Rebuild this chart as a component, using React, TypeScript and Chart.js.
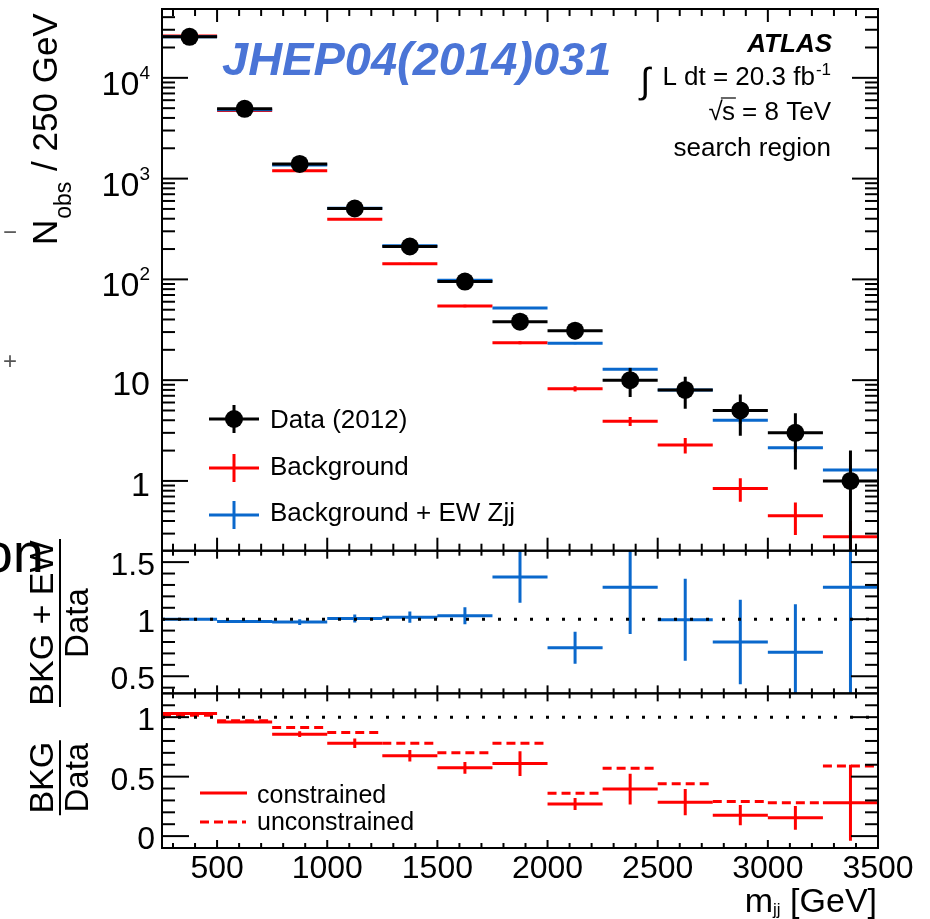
import React, { useEffect, useRef } from "react";
import { Chart, registerables } from "chart.js";

Chart.register(...registerables);

// ---------------- data ----------------
const binEdges = [250, 500, 750, 1000, 1250, 1500, 1750, 2000, 2250, 2500, 2750, 3000, 3250, 3500];

const dataCounts = [25500, 4930, 1400, 505, 212, 95, 38, 31, 10, 8, 5, 3, 1];
const dataErrors = [160, 70, 37, 22, 15, 10, 6.2, 5.6, 3.2, 2.8, 2.2, 1.7, 1.0];

const bkgCounts = [26000, 4730, 1200, 395, 143, 54.5, 23.5, 8.2, 3.9, 2.27, 0.84, 0.45, 0.28];
const bkgErrors = [100, 40, 15, 6, 3, 1.5, 0.8, 0.5, 0.4, 0.4, 0.22, 0.16, 0.12];

const bkgEwCounts = [25500, 4830, 1365, 508, 216, 98, 52, 23.3, 12.8, 8.0, 4.0, 2.13, 1.28];
const bkgEwErrors = [100, 40, 15, 6, 3, 1.5, 1.0, 0.6, 0.5, 0.45, 0.3, 0.2, 0.15];

const ratioEw = [1.0, 0.98, 0.975, 1.006, 1.018, 1.03, 1.37, 0.75, 1.28, 0.995, 0.8, 0.71, 1.28];
const ratioEwErrors = [0.005, 0.01, 0.025, 0.035, 0.05, 0.075, 0.225, 0.14, 0.41, 0.36, 0.37, 0.42, 1.3];

const ratioBkg = [1.03, 0.96, 0.857, 0.78, 0.675, 0.574, 0.61, 0.27, 0.395, 0.285, 0.176, 0.154, 0.28];
const ratioBkgErrors = [0.004, 0.01, 0.024, 0.04, 0.048, 0.05, 0.104, 0.05, 0.13, 0.11, 0.085, 0.1, 0.32];
const ratioBkgUnconstrained = [1.015, 0.97, 0.913, 0.87, 0.78, 0.7, 0.78, 0.36, 0.57, 0.44, 0.29, 0.28, 0.59];

const xTickValues = [500, 1000, 1500, 2000, 2500, 3000, 3500];
const mainTickValues = [1, 10, 100, 1000, 10000];
const mainTickBases = ["1", "10", "10", "10", "10"];
const mainTickExps = ["", "", "2", "3", "4"];
const midTickValues = [0.5, 1, 1.5];
const midTickLabels = ["0.5", "1", "1.5"];
const botTickValues = [0, 0.5, 1];
const botTickLabels = ["0", "0.5", "1"];

const xRange = [250, 3500];
const mainRange = [0.203, 48200];
const midRange = [0.35, 1.6];
const botRange = [-0.1, 1.2];

// ---------------- style ----------------
const FONT = '"Liberation Sans", Arial, Helvetica, sans-serif';
const RED = "#ff0000";
const BLUE = "#0a68cc";
const BLACK = "#000000";

function binCenter(i: number) {
  return (binEdges[i] + binEdges[i + 1]) / 2;
}

function hSegments(values: number[]) {
  const pts: any[] = [];
  values.forEach((v, i) => {
    pts.push({ x: binEdges[i], y: v }, { x: binEdges[i + 1], y: v }, { x: binEdges[i + 1], y: null });
  });
  return pts;
}

function vSegments(values: number[], errors: number[], range: number[]) {
  const pts: any[] = [];
  values.forEach((v, i) => {
    const c = binCenter(i);
    const lo = Math.max(v - errors[i], range[0]);
    const hi = Math.min(v + errors[i], range[1]);
    pts.push({ x: c, y: lo }, { x: c, y: hi }, { x: c, y: null });
  });
  return pts;
}

function seg(data: any[], yAxisID: string, color: string, dash: number[] = [], width = 3) {
  return {
    type: "line",
    data,
    yAxisID,
    xAxisID: "x",
    borderColor: color,
    backgroundColor: color,
    borderWidth: width,
    borderDash: dash,
    borderCapStyle: "butt",
    pointRadius: 0,
    pointHoverRadius: 0,
    fill: false,
    spanGaps: false,
    tension: 0,
  };
}

const panelClip = {
  id: "panelClip",
  beforeDatasetDraw(chart: any, args: any) {
    const ys = chart.scales[args.meta.yAxisID];
    const ca = chart.chartArea;
    const ctx = chart.ctx;
    ctx.save();
    ctx.beginPath();
    ctx.rect(ca.left, ys.top, ca.right - ca.left, ys.bottom - ys.top);
    ctx.clip();
  },
  afterDatasetDraw(chart: any) {
    chart.ctx.restore();
  },
};

function line(ctx: CanvasRenderingContext2D, x1: number, y1: number, x2: number, y2: number) {
  ctx.beginPath();
  ctx.moveTo(x1, y1);
  ctx.lineTo(x2, y2);
  ctx.stroke();
}

const rootDecor = {
  id: "rootDecor",
  afterDraw(chart: any) {
    const ctx: CanvasRenderingContext2D = chart.ctx;
    const ca = chart.chartArea;
    const x = chart.scales.x;
    const yM = chart.scales.yMain;
    const yMd = chart.scales.yMid;
    const yB = chart.scales.yBot;
    ctx.save();
    ctx.strokeStyle = BLACK;
    ctx.fillStyle = BLACK;
    ctx.lineWidth = 2;
    ctx.setLineDash([]);

    // frames
    for (const s of [yM, yMd, yB]) {
      ctx.strokeRect(ca.left, s.top, ca.right - ca.left, s.bottom - s.top);
    }

    // y ticks
    const yTick = (s: any, v: number, len: number) => {
      const p = s.getPixelForValue(v);
      if (p <= s.top + 1 || p >= s.bottom - 1) return;
      line(ctx, ca.left, p, ca.left + len, p);
      line(ctx, ca.right, p, ca.right - len, p);
    };
    for (let k = -1; k <= 4; k++) {
      for (let m = 1; m <= 9; m++) {
        const v = m * Math.pow(10, k);
        if (v < mainRange[0] || v > mainRange[1]) continue;
        yTick(yM, v, m === 1 ? 26 : 13);
      }
    }
    for (let i = 3; i <= 16; i++) {
      const v = i / 10;
      if (v < midRange[0] || v > midRange[1]) continue;
      yTick(yMd, v, i % 5 === 0 ? 27 : 13);
    }
    for (let i = -1; i <= 12; i++) {
      const v = i / 10;
      yTick(yB, v, i % 5 === 0 ? 27 : 13);
    }

    // x ticks
    for (let v = 300; v <= 3400; v += 100) {
      const p = x.getPixelForValue(v);
      const major = v % 500 === 0;
      const lm = major ? 13 : 7;
      line(ctx, p, yM.top, p, yM.top + lm);
      line(ctx, p, yM.bottom, p, yM.bottom - lm);
      const lr = major ? 8 : 5;
      for (const s of [yMd, yB]) {
        line(ctx, p, s.top, p, s.top + lr);
        line(ctx, p, s.bottom, p, s.bottom - lr);
      }
    }

    // y tick labels
    ctx.textBaseline = "alphabetic";
    ctx.textAlign = "right";
    mainTickValues.forEach((v, i) => {
      const p = yM.getPixelForValue(v);
      const right = ca.left - 12;
      if (mainTickExps[i]) {
        ctx.font = `19px ${FONT}`;
        ctx.fillText(mainTickExps[i], right, p + 1);
        const ew = ctx.measureText(mainTickExps[i]).width;
        ctx.font = `34px ${FONT}`;
        ctx.fillText(mainTickBases[i], right - ew, p + 17);
      } else {
        ctx.font = `34px ${FONT}`;
        ctx.fillText(mainTickBases[i], right, p + 15);
      }
    });
    ctx.font = `32px ${FONT}`;
    midTickValues.forEach((v, i) => {
      ctx.fillText(midTickLabels[i], ca.left - 7, yMd.getPixelForValue(v) + 13);
    });
    botTickValues.forEach((v, i) => {
      ctx.fillText(botTickLabels[i], ca.left - 7, yB.getPixelForValue(v) + 13);
    });

    // x tick labels
    ctx.textAlign = "center";
    ctx.font = `32px ${FONT}`;
    xTickValues.forEach((v) => {
      ctx.fillText(String(v), x.getPixelForValue(v), ca.bottom + 30);
    });

    // x title  m_jj [GeV]
    ctx.textAlign = "right";
    const xr = ca.right - 1;
    ctx.font = `34px ${FONT}`;
    ctx.fillText(" [GeV]", xr, ca.bottom + 64);
    const w1 = ctx.measureText(" [GeV]").width;
    ctx.font = `17px ${FONT}`;
    ctx.fillText("jj", xr - w1, ca.bottom + 67);
    const w2 = ctx.measureText("jj").width;
    ctx.font = `34px ${FONT}`;
    ctx.fillText("m", xr - w1 - w2, ca.bottom + 64);

    // y title main: N_obs / 250 GeV
    ctx.save();
    ctx.translate(57, 245);
    ctx.rotate(-Math.PI / 2);
    ctx.textAlign = "left";
    ctx.font = `35px ${FONT}`;
    ctx.fillText("N", 0, 0);
    const wN = ctx.measureText("N").width;
    ctx.font = `23px ${FONT}`;
    ctx.fillText("obs", wN + 1, 14);
    const wO = ctx.measureText("obs").width;
    ctx.font = `35px ${FONT}`;
    ctx.fillText(" / 250 GeV", wN + wO + 2, 0);
    ctx.restore();

    // ratio titles (fractions)
    const fraction = (num: string, den: string, cy: number, barLen: number) => {
      ctx.save();
      ctx.translate(53, cy);
      ctx.rotate(-Math.PI / 2);
      ctx.textAlign = "center";
      ctx.font = `34px ${FONT}`;
      ctx.fillText(num, 0, 0);
      ctx.restore();
      ctx.save();
      ctx.translate(88, cy);
      ctx.rotate(-Math.PI / 2);
      ctx.textAlign = "center";
      ctx.font = `33px ${FONT}`;
      ctx.fillText(den, 0, 0);
      ctx.restore();
      ctx.lineWidth = 2;
      line(ctx, 60, cy - barLen / 2, 60, cy + barLen / 2);
    };
    fraction("BKG + EW", "Data", (yMd.top + yMd.bottom) / 2 + 1, 168);
    fraction("BKG", "Data", (yB.top + yB.bottom) / 2 + 7, 75);

    // JHEP label
    ctx.textAlign = "left";
    ctx.fillStyle = "#4a74d6";
    ctx.font = `italic bold 47px ${FONT}`;
    ctx.fillText("JHEP04(2014)031", 222, 75);
    ctx.fillStyle = BLACK;

    // ATLAS block
    const R = 831;
    ctx.textAlign = "right";
    ctx.font = `italic bold 26px ${FONT}`;
    ctx.fillText("ATLAS", R + 1, 52);
    ctx.font = `17px ${FONT}`;
    ctx.fillText("-1", R, 75);
    const supW = ctx.measureText("-1").width;
    ctx.font = `26px ${FONT}`;
    const lumiX = R - supW - 1;
    ctx.fillText("L dt = 20.3 fb", lumiX, 85);
    const lw = ctx.measureText("L dt = 20.3 fb").width;
    ctx.font = `36px ${FONT}`;
    ctx.fillText("∫", lumiX - lw - 12, 93);
    ctx.font = `26px ${FONT}`;
    ctx.fillText("s = 8 TeV", R, 120);
    const sw = ctx.measureText("s = 8 TeV").width;
    const sW = ctx.measureText("s").width;
    const sStart = R - sw;
    ctx.fillText("√", sStart + 1, 120);
    ctx.lineWidth = 1.2;
    line(ctx, sStart - 1, 98, sStart + sW + 1, 98);
    ctx.fillText("search region", R, 156);

    // main legend
    ctx.lineWidth = 3;
    const cross = (cx: number, cy: number, color: string, hh: number) => {
      ctx.strokeStyle = color;
      line(ctx, cx - 25, cy, cx + 25, cy);
      line(ctx, cx, cy - hh, cx, cy + hh);
    };
    cross(234, 419, BLACK, 14);
    ctx.beginPath();
    ctx.arc(234, 419, 9, 0, Math.PI * 2);
    ctx.fill();
    cross(234, 468, RED, 14);
    cross(234, 515, BLUE, 14);
    ctx.textAlign = "left";
    ctx.font = `26px ${FONT}`;
    ctx.fillText("Data (2012)", 270, 428);
    ctx.fillText("Background", 270, 475);
    ctx.fillText("Background + EW Zjj", 270, 521);

    // ratio legend
    ctx.strokeStyle = RED;
    line(ctx, 200, 793, 247, 793);
    ctx.setLineDash([9, 5]);
    line(ctx, 200, 822, 246, 822);
    ctx.setLineDash([]);
    ctx.font = `25px ${FONT}`;
    ctx.fillText("constrained", 257, 803);
    ctx.fillText("unconstrained", 257, 830);

    // fragments from neighbouring figure
    ctx.textAlign = "right";
    ctx.font = `56px ${FONT}`;
    ctx.fillText("on", 44, 572);
    ctx.fillStyle = "#555";
    ctx.textAlign = "left";
    ctx.font = `24px ${FONT}`;
    ctx.fillText("−", 3, 240);
    ctx.fillText("+", 3, 369);

    ctx.restore();
  },
};

export default function App() {
  const ref = useRef<HTMLCanvasElement>(null);

  useEffect(() => {
    const centersData = dataCounts.map((v, i) => ({ x: binCenter(i), y: v }));
    const unity = [{ x: xRange[0], y: 1 }, { x: xRange[1], y: 1 }];
    const datasets: any[] = [
      {
        type: "line",
        data: centersData,
        yAxisID: "yMain",
        xAxisID: "x",
        showLine: false,
        pointRadius: 9,
        pointHoverRadius: 9,
        pointBackgroundColor: BLACK,
        pointBorderWidth: 0,
        borderColor: BLACK,
      },
      seg(vSegments(dataCounts, dataErrors, mainRange), "yMain", BLACK),
      seg(hSegments(dataCounts), "yMain", BLACK),
      seg(vSegments(bkgEwCounts, bkgEwErrors, mainRange), "yMain", BLUE),
      seg(hSegments(bkgEwCounts), "yMain", BLUE),
      seg(vSegments(bkgCounts, bkgErrors, mainRange), "yMain", RED),
      seg(hSegments(bkgCounts), "yMain", RED),

      seg(unity, "yMid", BLACK, [3, 13], 3),
      seg(vSegments(ratioEw, ratioEwErrors, midRange), "yMid", BLUE),
      seg(hSegments(ratioEw), "yMid", BLUE),

      seg(unity, "yBot", BLACK, [3, 13], 3),
      seg(vSegments(ratioBkg, ratioBkgErrors, botRange), "yBot", RED),
      seg(hSegments(ratioBkg), "yBot", RED),
      seg(hSegments(ratioBkgUnconstrained), "yBot", RED, [9, 5]),
    ];

    const hiddenAxis = {
      grid: { display: false },
      border: { display: false },
      ticks: { display: false },
    };

    const chart = new Chart(ref.current as HTMLCanvasElement, {
      type: "line",
      data: { datasets },
      options: {
        responsive: false,
        animation: false,
        events: [],
        layout: { padding: { left: 0, top: 7, right: 52, bottom: 0 } },
        plugins: { legend: { display: false }, tooltip: { enabled: false } },
        scales: {
          x: {
            type: "linear",
            position: "bottom",
            min: xRange[0],
            max: xRange[1],
            ...hiddenAxis,
            afterFit: (s: any) => {
              s.height = 71;
            },
          },
          yMain: {
            type: "logarithmic",
            position: "left",
            min: mainRange[0],
            max: mainRange[1],
            stack: "panels",
            stackWeight: 543,
            weight: 3,
            ...hiddenAxis,
            afterFit: (s: any) => {
              s.width = 162;
            },
          },
          yMid: {
            type: "linear",
            position: "left",
            min: midRange[0],
            max: midRange[1],
            stack: "panels",
            stackWeight: 143,
            weight: 2,
            ...hiddenAxis,
            afterFit: (s: any) => {
              s.width = 162;
            },
          },
          yBot: {
            type: "linear",
            position: "left",
            min: botRange[0],
            max: botRange[1],
            stack: "panels",
            stackWeight: 155,
            weight: 1,
            ...hiddenAxis,
            afterFit: (s: any) => {
              s.width = 162;
            },
          },
        },
      } as any,
      plugins: [panelClip, rootDecor],
    } as any);
    return () => chart.destroy();
  }, []);

  return (
    <div style={{ position: "fixed", left: 0, top: 0, width: 930, height: 919, background: "#fff" }}>
      <canvas ref={ref} width={930} height={919} style={{ display: "block", width: 930, height: 919 }} />
    </div>
  );
}
